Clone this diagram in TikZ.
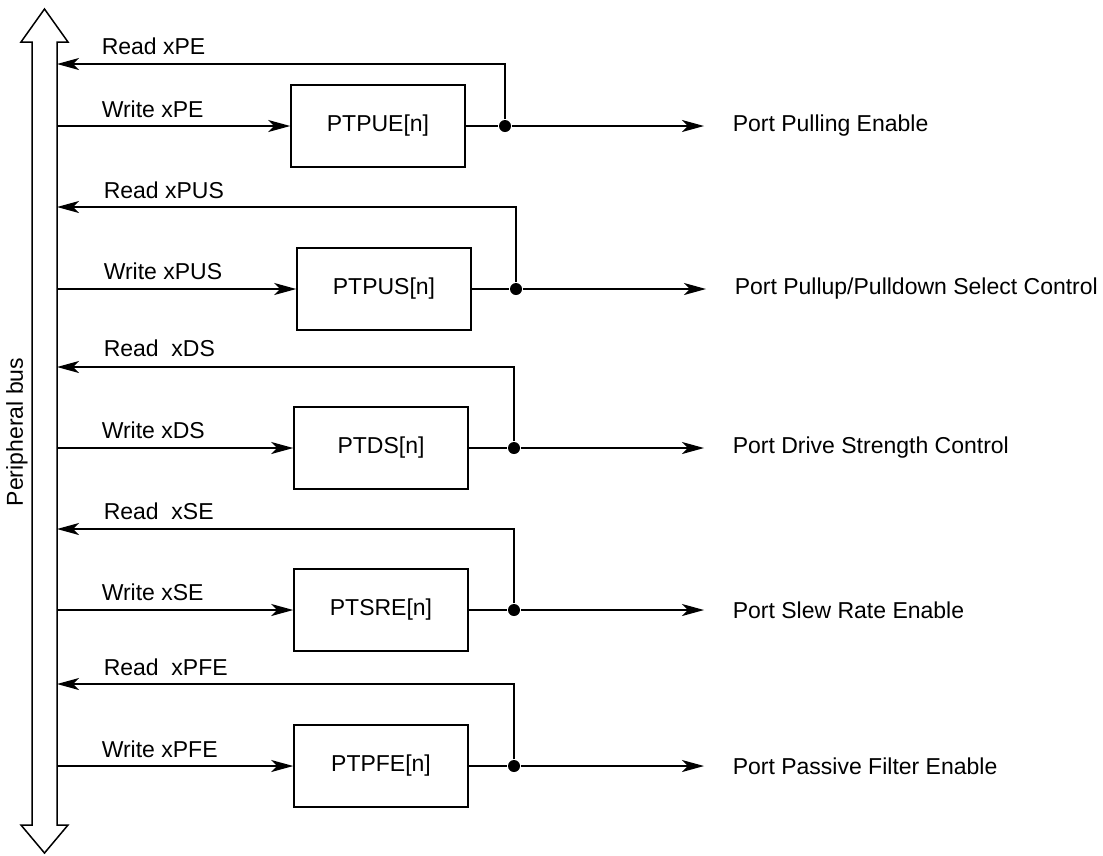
\documentclass[tikz,border=0pt]{standalone}
\usepackage{fontspec}
\setmainfont{Liberation Sans}
\usetikzlibrary{arrows.meta}
\begin{document}
\begin{tikzpicture}[x=0.4pt, y=-0.4pt, line width=0.6pt,
  every node/.style={font=\fontsize{9.2}{11}\selectfont}]
  \tikzstyle{reg}=[draw,minimum width=69.6pt,minimum height=32.8pt,inner sep=0pt]
  \tikzstyle{lbl}=[anchor=west,inner sep=0pt]
  \tikzstyle{jn}=[circle,fill,inner sep=0pt,minimum size=4.8pt]
  \tikzstyle{sig}=[-{Stealth[length=8.8pt,width=4.8pt,inset=2.3pt]}]
  \useasboundingbox (0,0) rectangle (1103,855);
  % peripheral bus
  \draw (32,42) -- (21,42) -- (44.5,9) -- (68,42) -- (57,42) -- (57,825)
        -- (68,825) -- (44.5,853) -- (21,825) -- (32,825) -- cycle;
  \node[rotate=90] (bus) at (17,432) {Peripheral bus};
  % PE
  \node[reg] (pue) at (378,126) {PTPUE[n]};
  \node[jn] (j1) at (505,126) {};
  \coordinate (w1) at (57,126);
  \coordinate (r1) at (57,64);
  \coordinate (o1) at (704,126);
  \draw[sig] (w1) -- (pue.west);
  \draw (pue.east) -- (j1);
  \draw[sig] (j1) -- (o1);
  \draw[sig] (j1) |- (r1);
  \node[lbl] (rl1) at (101,46) {Read xPE};
  \node[lbl] (wl1) at (101,109) {Write xPE};
  \node[lbl] (ol1) at (732,126) {Port Pulling Enable};
  % PUS
  \node[reg] (pus) at (384,289) {PTPUS[n]};
  \node[jn] (j2) at (516,289) {};
  \coordinate (w2) at (57,289);
  \coordinate (r2) at (57,207);
  \coordinate (o2) at (706,289);
  \draw[sig] (w2) -- (pus.west);
  \draw (pus.east) -- (j2);
  \draw[sig] (j2) -- (o2);
  \draw[sig] (j2) |- (r2);
  \node[lbl] (rl2) at (103,190) {Read xPUS};
  \node[lbl] (wl2) at (103,271) {Write xPUS};
  \node[lbl] (ol2) at (734,289) {Port Pullup/Pulldown Select Control};
  % DS
  \node[reg] (ds) at (381,448) {PTDS[n]};
  \node[jn] (j3) at (514,448) {};
  \coordinate (w3) at (57,448);
  \coordinate (r3) at (57,367);
  \coordinate (o3) at (704,448);
  \draw[sig] (w3) -- (ds.west);
  \draw (ds.east) -- (j3);
  \draw[sig] (j3) -- (o3);
  \draw[sig] (j3) |- (r3);
  \node[lbl] (rl3) at (103,348) {Read\ \ xDS};
  \node[lbl] (wl3) at (101,430) {Write xDS};
  \node[lbl] (ol3) at (732,448) {Port Drive Strength Control};
  % SRE
  \node[reg] (sre) at (381,610) {PTSRE[n]};
  \node[jn] (j4) at (514,610) {};
  \coordinate (w4) at (57,610);
  \coordinate (r4) at (57,529);
  \coordinate (o4) at (704,610);
  \draw[sig] (w4) -- (sre.west);
  \draw (sre.east) -- (j4);
  \draw[sig] (j4) -- (o4);
  \draw[sig] (j4) |- (r4);
  \node[lbl] (rl4) at (103,511) {Read\ \ xSE};
  \node[lbl] (wl4) at (101,592) {Write xSE};
  \node[lbl] (ol4) at (732,610) {Port Slew Rate Enable};
  % PFE
  \node[reg] (pfe) at (381,766) {PTPFE[n]};
  \node[jn] (j5) at (514,766) {};
  \coordinate (w5) at (57,766);
  \coordinate (r5) at (57,684);
  \coordinate (o5) at (704,766);
  \draw[sig] (w5) -- (pfe.west);
  \draw (pfe.east) -- (j5);
  \draw[sig] (j5) -- (o5);
  \draw[sig] (j5) |- (r5);
  \node[lbl] (rl5) at (103,667) {Read\ \ xPFE};
  \node[lbl] (wl5) at (101,749) {Write xPFE};
  \node[lbl] (ol5) at (732,766) {Port Passive Filter Enable};
\end{tikzpicture}
\end{document}
